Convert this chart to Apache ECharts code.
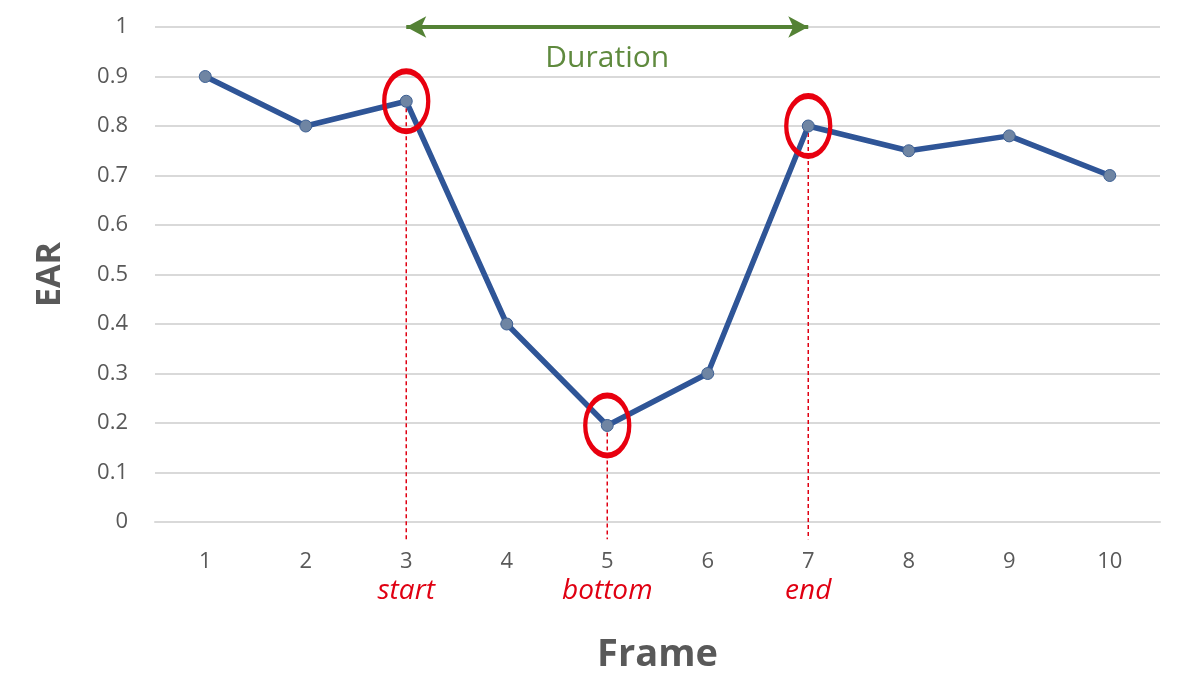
<!DOCTYPE html>
<html><head><meta charset="utf-8">
<script src="https://cdn.jsdelivr.net/npm/echarts@6/dist/echarts.min.js"></script>
<style>html,body{margin:0;padding:0;background:#fff}#c{width:1196px;height:684px}</style>
</head><body><div id="c"></div>
<script>
const frames = ['1','2','3','4','5','6','7','8','9','10'];
const ear = [0.9, 0.8, 0.85, 0.4, 0.195, 0.3, 0.8, 0.75, 0.78, 0.7];
const eventFrames = ['3','5','7'];
const eventNames = ['start','bottom','end'];
const durationFrom = '3', durationTo = '7', durationLevel = 1, durationLabel = 'Duration';
const guideBottom = -0.035;
const yTicks = [0, 0.1, 0.2, 0.3, 0.4, 0.5, 0.6, 0.7, 0.8, 0.9, 1];

const FONT = "'Open Sans', 'DejaVu Sans', sans-serif";
const chart = echarts.init(document.getElementById('c'));

const evIdx = eventFrames.map(f => frames.indexOf(f));

chart.setOption({
  animation: false,
  grid: { left: 155, right: 36, top: 27, bottom: 162 },
  xAxis: {
    type: 'category', data: frames, boundaryGap: true,
    name: 'Frame', nameLocation: 'middle', nameGap: 114,
    nameTextStyle: { fontFamily: FONT, fontSize: 38, fontWeight: 'bold', color: '#595959' },
    axisLine: { lineStyle: { color: '#d9d9d9', width: 2 } },
    axisTick: { show: false },
    axisLabel: {
      margin: 26, fontFamily: FONT,
      formatter: v => {
        const k = eventFrames.indexOf(v);
        return k >= 0 ? '{n|' + v + '}\n{e|' + eventNames[k] + '}' : '{n|' + v + '}';
      },
      rich: {
        n: { fontSize: 22, color: '#595959', fontFamily: FONT, lineHeight: 28 },
        e: { fontSize: 28, color: '#e00012', fontStyle: 'italic', fontFamily: FONT, lineHeight: 30 }
      }
    }
  },
  yAxis: {
    type: 'value', min: 0, max: 1, interval: 0.1,
    name: 'EAR', nameLocation: 'middle', nameGap: 88, nameRotate: 90,
    nameTextStyle: { fontFamily: FONT, fontSize: 34, fontWeight: 'bold', color: '#595959' },
    axisLine: { show: false }, axisTick: { show: false },
    axisLabel: { margin: 27, fontSize: 22, color: '#595959', fontFamily: FONT,
      formatter: v => { const t = yTicks.find(x => Math.abs(x - v) < 1e-9); return t === undefined ? '' : String(t); } },
    splitLine: { lineStyle: { color: '#d9d9d9', width: 2 } }
  },
  series: [
    {
      type: 'custom', z: 1, silent: true, clip: false,
      data: evIdx.map(i => [i, ear[i]]),
      renderItem: (params, api) => {
        const p0 = api.coord([api.value(0), api.value(1)]);
        const p1 = api.coord([api.value(0), guideBottom]);
        return { type: 'line', shape: { x1: p0[0], y1: p0[1], x2: p1[0], y2: p1[1] },
          style: { stroke: '#e00012', lineWidth: 1.5, lineDash: [4, 3] } };
      }
    },
    {
      type: 'line', data: ear, z: 3,
      lineStyle: { color: '#2f5597', width: 5.5 },
      symbol: 'circle', symbolSize: 12, showSymbol: true,
      itemStyle: { color: '#6f85a3', borderColor: '#3c5f93', borderWidth: 1 },
      markPoint: {
        silent: true, symbol: 'circle', symbolSize: [44, 60],
        itemStyle: { color: 'rgba(0,0,0,0)', borderColor: '#e8000f', borderWidth: 5 },
        label: { show: false },
        data: evIdx.map(i => ({ coord: [i, ear[i]] }))
      },
      markLine: {
        silent: true, symbol: ['arrow', 'arrow'], symbolSize: [16, 20],
        lineStyle: { color: '#548235', type: 'solid', width: 4 },
        label: { show: true, position: 'insideMiddleBottom', distance: 16, formatter: durationLabel,
          color: '#5f8a3e', fontSize: 30, fontFamily: FONT },
        data: [[{ coord: [frames.indexOf(durationFrom), durationLevel] }, { coord: [frames.indexOf(durationTo), durationLevel] }]]
      }
    }
  ]
});
</script></body></html>
